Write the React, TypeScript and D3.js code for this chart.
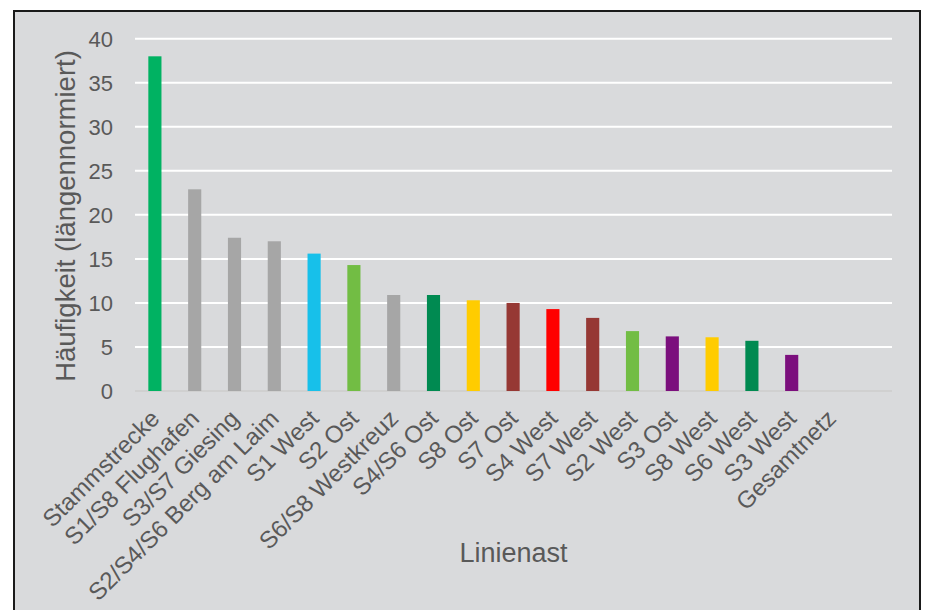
import React from "react";
import * as d3 from "d3";

const categories = [
  "Stammstrecke",
  "S1/S8 Flughafen",
  "S3/S7 Giesing",
  "S2/S4/S6 Berg am Laim",
  "S1 West",
  "S2 Ost",
  "S6/S8 Westkreuz",
  "S4/S6 Ost",
  "S8 Ost",
  "S7 Ost",
  "S4 West",
  "S7 West",
  "S2 West",
  "S3 Ost",
  "S8 West",
  "S6 West",
  "S3 West",
  "Gesamtnetz",
];
const values: (number | null)[] = [
  38.0, 22.9, 17.4, 17.0, 15.6, 14.3, 10.9, 10.9, 10.3, 10.0, 9.3, 8.3, 6.8, 6.2, 6.1, 5.7, 4.1, null,
];
const barColors = [
  "#00B262", "#A6A6A6", "#A6A6A6", "#A6A6A6", "#17C0EA", "#72BD44", "#A6A6A6", "#008A51",
  "#FFCC00", "#963834", "#FF0000", "#963834", "#72BD44", "#7B0F7D", "#FFCC00", "#008A51",
  "#7B0F7D", "#A6A6A6",
];
const yTicks = [0, 5, 10, 15, 20, 25, 30, 35, 40];

const W = 925;
const H = 610;
const font = "'Liberation Sans', Arial, sans-serif";
const textColor = "#595959";

export default function App() {
  const left = 135;
  const right = 892;
  const top = 38.7;
  const bottom = 391;
  const step = 39.8;

  // bands occupy 18 slots, the grid runs one slot further
  const x = d3
    .scaleBand<string>()
    .domain(categories)
    .range([left, left + step * categories.length])
    .paddingInner(0.67)
    .paddingOuter(0.335);
  const y = d3.scaleLinear().domain([0, 40]).range([bottom, top]);

  return (
    <svg width={W} height={H} style={{ position: "absolute", left: 0, top: 0, background: "#fff" }}>
      <rect x={14} y={11} width={906} height={620} fill="#D9DADC" stroke="#1a1a1a" strokeWidth={2} />

      {/* grid */}
      {yTicks.map((t) => (
        <line
          key={t}
          x1={left}
          x2={right}
          y1={y(t)}
          y2={y(t)}
          stroke={t === 0 ? "#D0D0D0" : "#FFFFFF"}
          strokeWidth={2}
        />
      ))}

      {/* y tick labels */}
      {yTicks.map((t) => (
        <text
          key={t}
          x={113}
          y={y(t)}
          dy="0.36em"
          textAnchor="end"
          fontFamily={font}
          fontSize={22}
          fill={textColor}
        >
          {t}
        </text>
      ))}

      {/* bars */}
      {categories.map((c, i) =>
        values[i] == null ? null : (
          <rect
            key={c}
            x={x(c)}
            y={y(values[i] as number)}
            width={x.bandwidth()}
            height={y(0) - y(values[i] as number)}
            fill={barColors[i]}
          />
        )
      )}

      {/* x labels */}
      {categories.map((c) => {
        const cx = (x(c) as number) + x.bandwidth() / 2 + 6;
        return (
          <text
            key={c}
            transform={`translate(${cx},${420}) rotate(-45)`}
            textAnchor="end"
            fontFamily={font}
            fontSize={24}
            fill={textColor}
          >
            {c}
          </text>
        );
      })}

      {/* axis titles */}
      <text
        transform={`translate(75,${216}) rotate(-90)`}
        textAnchor="middle"
        fontFamily={font}
        fontSize={27.5}
        fill={textColor}
      >
        Häufigkeit (längennormiert)
      </text>
      <text x={(left + right) / 2} y={562} textAnchor="middle" fontFamily={font} fontSize={27} fill={textColor}>
        Linienast
      </text>
    </svg>
  );
}
